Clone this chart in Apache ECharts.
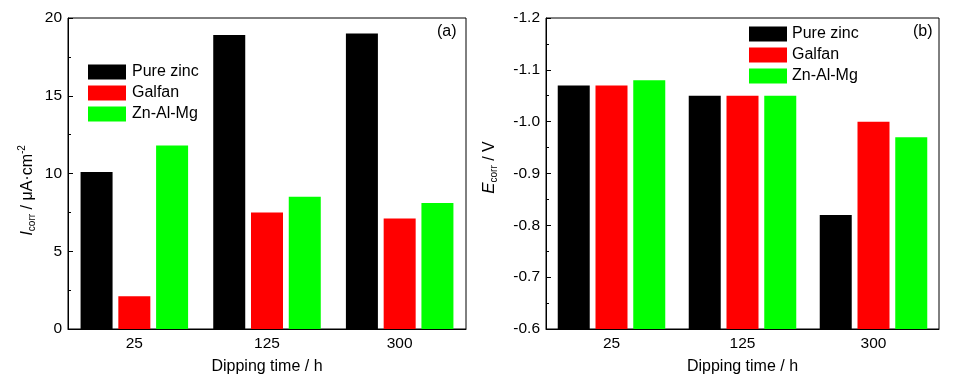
<!DOCTYPE html>
<html><head><meta charset="utf-8">
<script src="https://cdn.jsdelivr.net/npm/echarts@6/dist/echarts.min.js"></script>
<style>html,body{margin:0;padding:0;background:#fff}#c{width:960px;height:380px}</style>
</head><body><div id="c"></div>
<script>
const categories = ['25', '125', '300'];
const seriesNames = ['Pure zinc', 'Galfan', 'Zn-Al-Mg'];
const colors = ['#000000', '#ff0000', '#00ff00'];
const icorrPure = [10.1, 18.9, 19.0];
const icorrGalfan = [2.1, 7.5, 7.1];
const icorrZnAlMg = [11.8, 8.5, 8.1];
const ecorrPure = [-1.07, -1.05, -0.82];
const ecorrGalfan = [-1.07, -1.05, -1.00];
const ecorrZnAlMg = [-1.08, -1.05, -0.97];
const icorrTicks = [0, 5, 10, 15, 20];
const ecorrTicks = [-1.2, -1.1, -1.0, -0.9, -0.8, -0.7, -0.6];

const FONT = 'Liberation Sans, Arial, sans-serif';
const chart = echarts.init(document.getElementById('c'));
const lbl = {fontFamily: FONT, fontSize: 15.5, color: '#000'};
const txt = {fontFamily: FONT, fontSize: 16, color: '#000'};

function xAxes(gi) {
  return [{
    type: 'category', gridIndex: gi, data: categories, boundaryGap: true,
    axisLine: {lineStyle: {color: '#000', width: 1}},
    axisTick: {alignWithLabel: true, inside: true, length: 5, lineStyle: {color: '#000'}},
    axisLabel: Object.assign({margin: 7}, lbl),
    name: 'Dipping time / h', nameLocation: 'middle', nameGap: 30,
    nameTextStyle: txt
  }, {
    type: 'category', gridIndex: gi, data: categories, boundaryGap: true, position: 'bottom',
    axisLine: {show: false},
    axisTick: {inside: true, length: 3, lineStyle: {color: '#000'}},
    axisLabel: {show: false}
  }];
}

const option = {
  animation: false,
  backgroundColor: '#fff',
  textStyle: {fontFamily: FONT},
  grid: [
    {left: 68, top: 18, width: 398, height: 313, show: true, borderColor: '#000', borderWidth: 1},
    {left: 546, top: 18, width: 393, height: 312, show: true, borderColor: '#000', borderWidth: 1}
  ],
  legend: [
    {data: seriesNames, orient: 'vertical', left: 88, top: 64, padding: 0, itemWidth: 38, itemHeight: 15, itemGap: 5,
     textStyle: Object.assign({padding: [0, 0, 0, 1]}, txt), icon: 'rect', selectedMode: false},
    {data: seriesNames, orient: 'vertical', left: 749, top: 26, padding: 0, itemWidth: 38, itemHeight: 15, itemGap: 5,
     textStyle: Object.assign({padding: [0, 0, 0, 0]}, txt), icon: 'rect', selectedMode: false}
  ],
  graphic: [
    {type: 'text', left: 437, top: 24, style: {text: '(a)', font: '16px ' + FONT, fill: '#000'}},
    {type: 'text', left: 913, top: 24, style: {text: '(b)', font: '16px ' + FONT, fill: '#000'}}
  ],
  xAxis: xAxes(0).concat(xAxes(1)),
  yAxis: [{
    type: 'value', gridIndex: 0, min: icorrTicks[0], max: icorrTicks[icorrTicks.length - 1], interval: 5,
    axisLine: {show: true, lineStyle: {color: '#000'}},
    axisTick: {show: true, inside: true, length: 5, lineStyle: {color: '#000'}},
    minorTick: {show: true, splitNumber: 2, length: 3, lineStyle: {color: '#000'}},
    splitLine: {show: false},
    axisLabel: Object.assign({margin: 6}, lbl),
    name: '{i|I}{sub|corr}{n| / μA·cm}{sup|-2}', nameLocation: 'middle', nameGap: 30,
    nameTextStyle: {fontFamily: FONT, fontSize: 16, color: '#000', padding: [0, 34, 0, 0],
      rich: {
        i: {fontFamily: FONT, fontSize: 17, fontStyle: 'italic', color: '#000'},
        sub: {fontFamily: FONT, fontSize: 10, color: '#000', padding: [9, 0, 0, 0]},
        n: {fontFamily: FONT, fontSize: 16, color: '#000'},
        sup: {fontFamily: FONT, fontSize: 10, color: '#000', padding: [0, 0, 11, 0]}
      }}
  }, {
    type: 'value', gridIndex: 1, inverse: true, min: ecorrTicks[0], max: ecorrTicks[ecorrTicks.length - 1], interval: 0.1,
    axisLine: {show: true, lineStyle: {color: '#000'}},
    axisTick: {show: true, inside: true, length: 5, lineStyle: {color: '#000'}},
    minorTick: {show: true, splitNumber: 2, length: 3, lineStyle: {color: '#000'}},
    splitLine: {show: false},
    axisLabel: Object.assign({margin: 6, formatter: v => v.toFixed(1)}, lbl),
    name: '{i|E}{sub|corr}{n| / V}', nameLocation: 'middle', nameGap: 47,
    nameTextStyle: {fontFamily: FONT, fontSize: 16, color: '#000', padding: [0, 0, 0, 12],
      rich: {
        i: {fontFamily: FONT, fontSize: 17, fontStyle: 'italic', color: '#000'},
        sub: {fontFamily: FONT, fontSize: 10, color: '#000', padding: [9, 0, 0, 0]},
        n: {fontFamily: FONT, fontSize: 16, color: '#000'}
      }}
  }],
  series: [
    {name: seriesNames[0], type: 'bar', xAxisIndex: 0, yAxisIndex: 0, data: icorrPure},
    {name: seriesNames[1], type: 'bar', xAxisIndex: 0, yAxisIndex: 0, data: icorrGalfan},
    {name: seriesNames[2], type: 'bar', xAxisIndex: 0, yAxisIndex: 0, data: icorrZnAlMg},
    {name: seriesNames[0], type: 'bar', xAxisIndex: 2, yAxisIndex: 1, data: ecorrPure},
    {name: seriesNames[1], type: 'bar', xAxisIndex: 2, yAxisIndex: 1, data: ecorrGalfan},
    {name: seriesNames[2], type: 'bar', xAxisIndex: 2, yAxisIndex: 1, data: ecorrZnAlMg}
  ].map((s, i) => Object.assign(s, {
    barWidth: 32, barGap: '18%', clip: true,
    itemStyle: {color: colors[i % 3]}
  }))
};
chart.setOption(option);
</script></body></html>
